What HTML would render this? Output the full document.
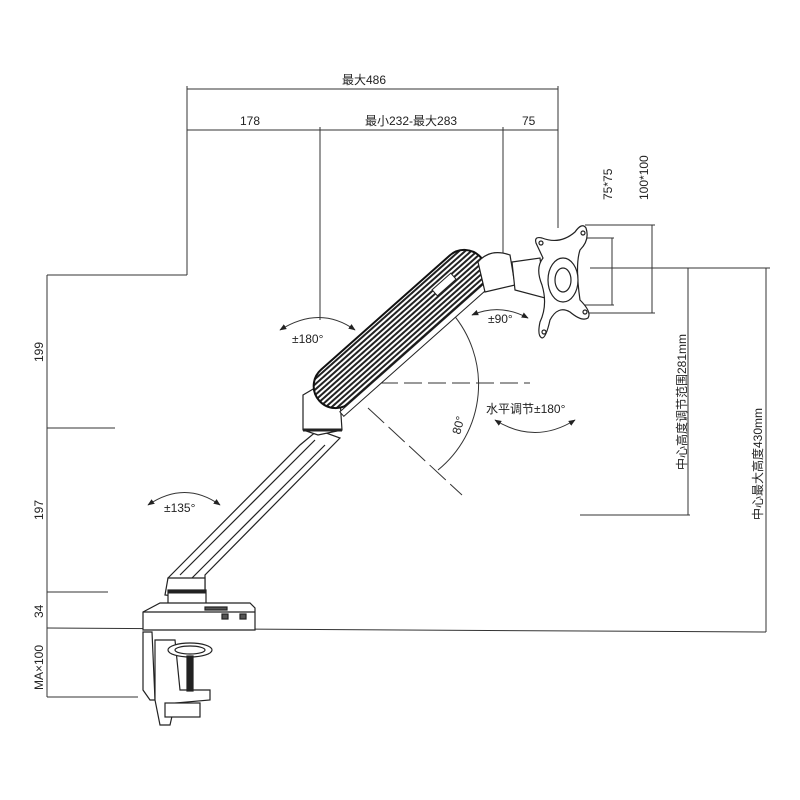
<!DOCTYPE html>
<html><head><meta charset="utf-8"><style>
html,body{margin:0;padding:0;background:#fff}
svg{display:block}
text{font-family:"Liberation Sans","Noto Sans CJK SC",sans-serif;fill:#222}
</style></head><body>
<svg width="800" height="800" viewBox="0 0 800 800" xmlns="http://www.w3.org/2000/svg">
<defs>
<pattern id="h" width="4" height="4" patternUnits="userSpaceOnUse">
<rect width="4" height="4" fill="#fff"/><rect width="4" height="2" fill="#222"/>
</pattern>
<marker id="a" viewBox="0 0 10 10" refX="9" refY="5" markerWidth="7" markerHeight="7" orient="auto-start-reverse"><path d="M0,1 L10,5 L0,9z" fill="#222"/></marker>
</defs>
<g stroke="#333" stroke-width="1" fill="none">
<line x1="187" y1="89" x2="558" y2="89"/>
<line x1="187" y1="130" x2="558" y2="130"/>
<line x1="187" y1="86" x2="187" y2="275"/>
<line x1="187" y1="275" x2="47" y2="275"/>
<line x1="320" y1="127" x2="320" y2="320"/>
<line x1="503" y1="127" x2="503" y2="255"/>
<line x1="558" y1="86" x2="558" y2="228"/>
<line x1="47" y1="275" x2="47" y2="697"/>
<line x1="47" y1="428" x2="115" y2="428"/>
<line x1="47" y1="592" x2="108" y2="592"/>
<line x1="47" y1="628" x2="766" y2="632"/>
<line x1="47" y1="697" x2="138" y2="697"/>
<line x1="590" y1="268" x2="770" y2="268"/>
<line x1="688" y1="268" x2="688" y2="515"/>
<line x1="580" y1="515" x2="690" y2="515"/>
<line x1="766" y1="268" x2="766" y2="632"/>
<line x1="612" y1="238" x2="612" y2="305"/>
<line x1="652" y1="225" x2="652" y2="313"/>
<line x1="585" y1="225" x2="655" y2="225"/>
<line x1="583" y1="238" x2="614" y2="238"/>
<line x1="583" y1="305" x2="614" y2="305"/>
<line x1="588" y1="313" x2="655" y2="313"/>
<line x1="380" y1="383" x2="530" y2="383" stroke-dasharray="18,6"/>
<line x1="368" y1="408" x2="462" y2="495" stroke-dasharray="22,6"/>
<path d="M452,313 A110,110 0 0 1 438,470"/>
<path d="M280,330 Q320,305 355,330" marker-start="url(#a)" marker-end="url(#a)"/>
<path d="M148,505 Q185,480 220,505" marker-start="url(#a)" marker-end="url(#a)"/>
<path d="M472,315 Q500,303 528,318" marker-start="url(#a)" marker-end="url(#a)"/>
<path d="M495,420 Q535,445 575,420" marker-start="url(#a)" marker-end="url(#a)"/>
</g>
<g stroke="#222" stroke-width="1.2" fill="#fff">
<path d="M168,578 L300,445 L318,430 L340,438 L205,575 L205,590 L168,590Z"/>
<line x1="180" y1="575" x2="315" y2="440"/>
<line x1="192" y1="578" x2="325" y2="445"/>
<path d="M165,595 L168,578 L205,578 L205,600 Z"/>
<rect x="168" y="590" width="38" height="16"/>
<line x1="168" y1="592" x2="206" y2="592" stroke-width="3"/>
<path d="M303,395 L320,385 L340,400 L342,430 L318,435 L303,430Z"/>
<line x1="303" y1="430" x2="342" y2="430" stroke-width="3"/>
<path d="M143,612 L160,603 L250,603 L255,608 L255,630 L143,630Z"/>
<line x1="143" y1="612" x2="255" y2="612"/>
<rect x="222" y="614" width="6" height="5" fill="#555"/>
<rect x="240" y="614" width="6" height="5" fill="#555"/>
<rect x="205" y="607" width="22" height="3" fill="#555"/>
<path d="M143,632 L152,632 L155,700 L150,700 L143,690Z"/>
<path d="M155,640 L175,640 L180,690 L210,690 L210,700 L175,703 L170,725 L160,725 L155,700Z"/>
<ellipse cx="190" cy="650" rx="22" ry="7"/>
<ellipse cx="190" cy="650" rx="15" ry="4"/>
<rect x="187" y="656" width="6" height="35" fill="#222"/>
<rect x="165" y="703" width="35" height="14"/>
</g>
<g transform="translate(400,329) rotate(-41.6)">
<rect x="-108" y="-22" width="216" height="44" rx="22" fill="url(#h)" stroke="#111" stroke-width="2"/>
<rect x="-100" y="22" width="200" height="6" fill="#fff" stroke="#222"/>
<rect x="50" y="-8" width="25" height="8" fill="#fff" stroke="#222"/>
</g>
<g stroke="#222" stroke-width="1.2" fill="#fff">
<path d="M478,262 Q490,248 510,255 L515,285 L485,292 Z"/>
<path d="M512,262 L540,258 L545,298 L515,290Z"/>
<path d="M536,243 Q534,236 542,238 Q560,245 575,232 Q582,222 586,228 Q590,240 580,250 Q575,265 580,300 Q592,312 588,318 Q582,322 570,312 Q558,305 550,320 Q546,338 542,338 Q537,336 540,322 Q548,305 542,285 Q535,268 543,258 Z"/>
<ellipse cx="563" cy="280" rx="15" ry="22"/>
<ellipse cx="563" cy="280" rx="8" ry="12"/>
<circle cx="583" cy="233" r="2"/><circle cx="585" cy="312" r="2"/>
<circle cx="541" cy="243" r="2"/><circle cx="544" cy="332" r="2"/>
</g>
<g fill="#222" font-size="12">
<text x="342" y="84">最大486</text>
<text x="240" y="125">178</text>
<text x="365" y="125">最小232-最大283</text>
<text x="522" y="125">75</text>
<text x="292" y="343">±180°</text>
<text x="164" y="512">±135°</text>
<text x="488" y="323">±90°</text>
<text x="486" y="413">水平调节±180°</text>
<text transform="translate(460,435) rotate(-75)">80°</text>
<text transform="translate(612,200) rotate(-90)">75*75</text>
<text transform="translate(648,200) rotate(-90)">100*100</text>
<text transform="translate(43,362) rotate(-90)">199</text>
<text transform="translate(43,520) rotate(-90)">197</text>
<text transform="translate(43,618) rotate(-90)">34</text>
<text transform="translate(43,690) rotate(-90)">MA×100</text>
<text transform="translate(686,470) rotate(-90)">中心高度调节范围281mm</text>
<text transform="translate(762,520) rotate(-90)">中心最大高度430mm</text>
</g>
</svg>
</body></html>
